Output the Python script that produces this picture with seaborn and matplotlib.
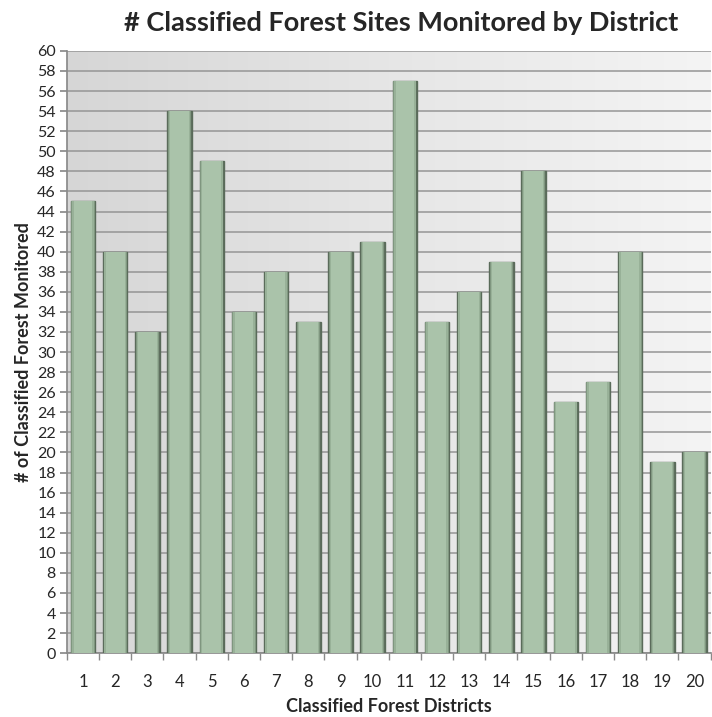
import seaborn as sns
from matplotlib import pyplot as plt
import pandas as pd
import numpy as np

districts = [str(i) for i in range(1, 21)]
sites = [45, 40, 32, 54, 49, 34, 38, 33, 40, 41, 57, 33, 36, 39, 48, 25, 27, 40, 19, 20]

df = pd.DataFrame({"district": districts, "sites": sites})

sns.set_theme(style="white")
plt.rcParams["font.family"] = ["Lato", "DejaVu Sans"]

fig = plt.figure(figsize=(7.12, 7.17), dpi=100)
ax = fig.add_axes([0.094, 0.089, 0.904, 0.84])

# gradient background (darker on the left, lighter on the right)
grad = np.linspace(0, 1, 256).reshape(1, -1)
ax.imshow(grad, extent=[0, 1, 0, 1], transform=ax.transAxes, aspect="auto",
          cmap=sns.blend_palette(["#d6d6d6", "#e6e6e6", "#f4f4f4"], as_cmap=True),
          zorder=0)

# bars: layered to imitate the bevelled look
sns.barplot(data=df, x="district", y="sites", color="#5f715f", width=0.76,
            saturation=1, linewidth=1, edgecolor="#5a6b5a", ax=ax, zorder=3)
layers = [("#7f967f", 0.72), ("#98b198", 0.67), ("#aac3aa", 0.58)]
for col, w in layers:
    sns.barplot(data=df, x="district", y="sites", color=col, width=w,
                saturation=1, linewidth=0, edgecolor="none", ax=ax, zorder=3)

ax.set_ylim(0, 60)
ax.set_xlim(-0.5, 19.5)
ax.set_yticks(range(0, 61, 2))
ax.yaxis.grid(True, color="#959595", linewidth=1.1, zorder=1)
ax.set_axisbelow(True)

for s in ["top", "right"]:
    ax.spines[s].set_visible(False)
ax.spines["left"].set_color("#8a8a8a")
ax.spines["bottom"].set_color("#8a8a8a")

ax.tick_params(axis="y", which="major", left=True, length=5, color="#8a8a8a",
               labelsize=11.5, pad=3)
ax.tick_params(axis="x", which="major", bottom=False, labelsize=12, pad=9)
ax.set_xticks(np.arange(-0.5, 20, 1), minor=True)
ax.tick_params(axis="x", which="minor", bottom=True, length=5, color="#8a8a8a")

ax.set_xlabel("Classified Forest Districts", fontsize=13, fontweight="bold", labelpad=6)
ax.set_ylabel("# of Classified Forest Monitored", fontsize=13, fontweight="bold", labelpad=4)
fig.text(0.564, 0.968, "# Classified Forest Sites Monitored by District", fontsize=19.5,
         fontweight="bold", ha="center", va="center")

plt.savefig("out.png", dpi=100)
